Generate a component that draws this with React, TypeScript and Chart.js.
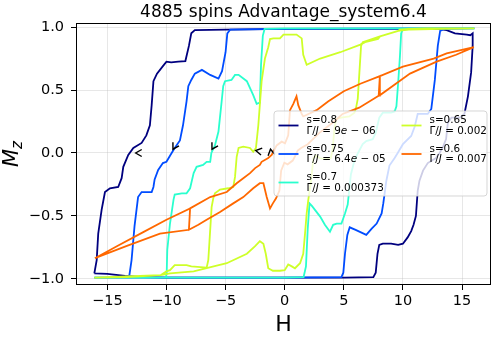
import React, { useEffect, useRef } from "react";
import { Chart, registerables } from "chart.js";
Chart.register(...registerables);

const TITLE = "4885 spins Advantage_system6.4";
const X_LABEL = "H";
const X_TICKS = [-15, -10, -5, 0, 5, 10, 15];
const Y_TICKS = [-1.0, -0.5, 0.0, 0.5, 1.0];
const S_LABELS = ["s=0.8", "s=0.75", "s=0.7", "s=0.65", "s=0.6"];
const GAMMA_MANT = ["9", "6.4", "0.000373", "0.002", "0.007"];
const GAMMA_EXP = ["06", "05", "", "", ""];
const COLORS = ["#00007f", "#004cff", "#29ffce", "#ceff29", "#ff6800"];

// s = 0.8 : forward sweep then backward sweep
const H_080 = [-16.1, -15, -13.5, -12, -10, -5, 0, 5, 7.5, 7.7, 7.85, 8.0, 8.3, 9.0, 9.6, 10.0, 10.4, 10.7, 10.9, 11.1, 11.25, 11.4, 11.7, 12.1, 12.8, 13.1, 13.4, 13.65, 13.8, 14.1, 14.8, 15.2, 15.5, 15.77, 15.9, 15.9,
  15.7, 15.4, 14.4, 13.7, 13, 10, 5, 0, -5, -7.6, -7.9, -8.1, -8.4, -9.0, -9.6, -10.0, -10.3, -10.8, -11.1, -11.25, -11.4, -11.7, -12.1, -12.8, -13.23, -13.65, -13.79, -14.08, -14.78, -15.2, -15.48, -15.77, -15.9, -16.1];
const M_080 = [-0.955, -0.96, -0.975, -0.985, -0.99, -0.99, -0.99, -0.99, -0.985, -0.95, -0.8, -0.73, -0.72, -0.72, -0.73, -0.72, -0.67, -0.62, -0.57, -0.5, -0.3, -0.22, -0.14, -0.08, -0.04, 0.0, 0.05, 0.11, 0.24, 0.28, 0.28, 0.31, 0.45, 0.64, 0.85, 0.95,
  0.935, 0.94, 0.95, 0.975, 0.985, 0.985, 0.985, 0.985, 0.98, 0.975, 0.95, 0.85, 0.73, 0.725, 0.72, 0.725, 0.69, 0.63, 0.57, 0.38, 0.22, 0.14, 0.08, 0.04, -0.016, -0.11, -0.2, -0.27, -0.28, -0.31, -0.45, -0.64, -0.85, -0.955];

// s = 0.75
const H_075 = [-16.1, -10, 0, 4.8, 4.96, 5.1, 5.3, 5.5, 6.0, 6.9, 7.36, 7.78, 8.2, 8.34, 8.6, 8.86, 9.3, 9.56, 10.0, 10.7, 11.0, 11.25, 12.1, 12.4, 12.7, 12.95, 13.15, 13.5, 16.05,
  10, 0, -4.6, -4.85, -5.0, -5.3, -5.6, -6.3, -7.0, -7.6, -7.9, -8.15, -8.3, -8.6, -8.86, -9.3, -9.56, -10, -10.3, -10.7, -11, -11.1, -11.25, -12.1, -12.4, -12.7, -12.95, -13.15, -13.5, -16.1];
const M_075 = [-0.99, -0.99, -0.99, -0.985, -0.95, -0.8, -0.65, -0.59, -0.61, -0.65, -0.6, -0.56, -0.48, -0.4, -0.22, -0.1, -0.04, 0.0, 0.07, 0.135, 0.21, 0.31, 0.31, 0.35, 0.58, 0.85, 0.97, 0.985, 0.99,
  0.99, 0.985, 0.98, 0.95, 0.8, 0.65, 0.59, 0.62, 0.66, 0.63, 0.58, 0.53, 0.41, 0.22, 0.10, 0.04, 0.0, -0.07, -0.08, -0.135, -0.21, -0.27, -0.31, -0.31, -0.35, -0.58, -0.85, -0.98, -0.99, -0.99];

// s = 0.7
const H_070 = [-16.1, -5, 0, 1.6, 1.8, 1.95, 2.1, 2.3, 3.0, 3.4, 3.83, 4.1, 4.4, 4.8, 5.1, 5.33, 5.6, 5.9, 6.2, 6.6, 6.9, 7.45, 7.7, 8.0, 8.3, 9.0, 9.3, 9.45, 9.6, 9.75, 9.85, 10.0, 12, 16.05,
  10, 5, 0, -1.7, -1.85, -2.0, -2.1, -2.37, -2.66, -3.2, -3.9, -4.2, -4.5, -5.05, -5.2, -5.33, -5.6, -5.9, -6.2, -6.3, -6.6, -6.9, -7.45, -7.7, -8.0, -8.3, -8.7, -9.3, -9.4, -9.7, -9.93, -9.98, -10.05, -12, -16.1];
const M_070 = [-0.99, -0.99, -0.99, -0.985, -0.9, -0.6, -0.4, -0.42, -0.505, -0.57, -0.625, -0.57, -0.56, -0.56, -0.48, -0.41, -0.17, -0.06, 0.0, 0.07, 0.095, 0.11, 0.16, 0.28, 0.32, 0.32, 0.33, 0.37, 0.56, 0.77, 0.95, 0.985, 0.99, 0.99,
  0.99, 0.99, 0.99, 0.985, 0.93, 0.7, 0.40, 0.39, 0.46, 0.57, 0.62, 0.62, 0.58, 0.57, 0.53, 0.41, 0.17, 0.06, 0.0, -0.07, -0.07, -0.095, -0.11, -0.16, -0.28, -0.32, -0.32, -0.33, -0.37, -0.56, -0.77, -0.955, -0.99, -0.99, -0.99];

// s = 0.65
const H_065 = [-16.1, -13.4, -10.5, -9.7, -7.7, -4.9, -3.2, -2.5, -2.1, -1.8, -1.6, -1.39, -1.0, -0.4, 0, 0.3, 0.6, 0.87, 1.3, 1.57, 1.72, 1.86, 2.0, 2.23, 2.43, 2.66, 2.93, 3.5, 3.9, 4.06, 4.2, 4.35, 4.77, 5.47, 5.9, 6.04, 6.18, 6.32, 6.46, 6.6, 8.06, 9.6, 10.5, 13.4, 16.05,
  12, 10.5, 9.75, 9.6, 8.06, 7.9, 6.8, 6.4, 4.7, 3.0, 1.86, 1.57, 1.44, 1.0, -0.1, -0.4, -0.96, -1.24, -1.39, -1.67, -1.95, -2.23, -2.43, -2.66, -2.93, -3.5, -3.9, -4.06, -4.2, -4.35, -4.77, -5.47, -5.9, -6.04, -6.18, -6.32, -6.46, -6.6, -7.9, -8.3, -9.3, -9.7, -10.0, -10.5, -13.4, -16.1];
const M_065 = [-0.99, -0.985, -0.97, -0.955, -0.94, -0.875, -0.80, -0.74, -0.70, -0.72, -0.80, -0.915, -0.935, -0.935, -0.93, -0.885, -0.90, -0.915, -0.875, -0.80, -0.64, -0.48, -0.37, -0.22, -0.04, -0.02, -0.04, -0.05, -0.04, 0.03, 0.19, 0.27, 0.28, 0.29, 0.32, 0.36, 0.43, 0.64, 0.85, 0.88, 0.925, 0.97, 0.98, 0.985, 0.99,
  0.99, 0.985, 0.98, 0.97, 0.925, 0.905, 0.88, 0.86, 0.80, 0.75, 0.70, 0.78, 0.91, 0.94, 0.94, 0.91, 0.91, 0.905, 0.84, 0.75, 0.57, 0.22, 0.04, 0.01, 0.04, 0.05, 0.04, -0.03, -0.19, -0.27, -0.28, -0.29, -0.32, -0.36, -0.43, -0.64, -0.85, -0.91, -0.90, -0.89, -0.89, -0.93, -0.94, -0.97, -0.98, -0.99];

// s = 0.6
const H_060 = [-16.05, -14, -12, -10, -8.0, -8.1, -7.3, -6.6, -5.5, -4.35, -3.5, -2.66, -2.1, -1.8, -1.52, -1.24, -1.0, -0.73, -0.45, -0.3, -0.03, 0.25, 0.68, 0.96, 1.1, 1.39, 1.95, 2.5, 2.93, 3.5, 4.06, 4.9, 6.3, 7.95, 8.05, 10.0, 12.6, 13.7, 16.0,
  14.5, 12.85, 10.6, 8.0, 8.05, 6.4, 5.0, 3.7, 2.7, 1.57, 1.44, 1.15, 1.0, 0.73, 0.45, 0.3, 0.03, -0.25, -0.68, -0.96, -1.1, -1.39, -1.95, -2.1, -2.5, -2.93, -3.5, -4.06, -4.9, -6.3, -8.0, -8.1, -10.55, -13.4, -16.05];
const M_060 = [-0.835, -0.73, -0.63, -0.53, -0.44, -0.61, -0.57, -0.53, -0.47, -0.40, -0.35, -0.28, -0.24, -0.24, -0.35, -0.44, -0.40, -0.36, -0.30, -0.14, -0.077, -0.09, -0.06, -0.01, 0.02, 0.04, 0.07, 0.12, 0.16, 0.2, 0.24, 0.31, 0.36, 0.455, 0.61, 0.685, 0.75, 0.79, 0.84,
  0.78, 0.725, 0.63, 0.455, 0.61, 0.55, 0.49, 0.41, 0.34, 0.29, 0.31, 0.38, 0.45, 0.39, 0.34, 0.14, 0.077, 0.09, 0.06, 0.01, -0.016, -0.04, -0.07, -0.095, -0.12, -0.16, -0.2, -0.24, -0.31, -0.35, -0.44, -0.61, -0.64, -0.74, -0.835];

// sweep-direction arrow heads (position and heading in degrees, screen orientation)
const ARROW_H = [-12.6, -9.45, -6.15, -2.45, -1.2];
const ARROW_M = [0.0, 0.03, 0.03, 0.02, 0.03];
const ARROW_DEG = [180, 120, 120, 190, 260];

const SERIES_H = [H_080, H_075, H_070, H_065, H_060];
const SERIES_M = [M_080, M_075, M_070, M_065, M_060];

const FONT = "'DejaVu Sans', sans-serif";

function fmt(v: number, dec: number) {
  const s = Math.abs(v).toFixed(dec);
  return (v < 0 ? "\u2212" : "") + s;
}

function drawSegments(ctx: CanvasRenderingContext2D, segs: [string, boolean][], x: number, y: number, size: number) {
  let cx = x;
  for (const [t, it] of segs) {
    ctx.font = `${it ? "italic " : ""}${size}px ${FONT}`;
    ctx.fillText(t, cx, y);
    cx += ctx.measureText(t).width;
  }
}

const decorPlugin = {
  id: "decor",
  afterDatasetsDraw(chart: any) {
    const ctx = chart.ctx as CanvasRenderingContext2D;
    const xs = chart.scales.x, ys = chart.scales.y;
    const a = chart.chartArea;
    // arrow heads
    ctx.save();
    ctx.strokeStyle = "#000";
    ctx.lineWidth = 1.4;
    for (let i = 0; i < ARROW_H.length; i++) {
      const px = xs.getPixelForValue(ARROW_H[i]);
      const py = ys.getPixelForValue(ARROW_M[i]);
      ctx.save();
      ctx.translate(px, py);
      ctx.rotate((ARROW_DEG[i] * Math.PI) / 180);
      ctx.beginPath();
      ctx.moveTo(-6, -3.5);
      ctx.lineTo(0, 0);
      ctx.lineTo(-6, 3.5);
      ctx.stroke();
      ctx.restore();
    }
    ctx.restore();
    // frame
    ctx.save();
    ctx.strokeStyle = "#000";
    ctx.lineWidth = 1;
    ctx.strokeRect(Math.round(a.left) + 0.5, Math.round(a.top) + 0.5, Math.round(a.right - a.left) - 1, Math.round(a.bottom - a.top) - 1);
    ctx.restore();
    // legend
    ctx.save();
    const lx = 274, ly = 111, lw = 213, lh = 85, r = 3;
    ctx.beginPath();
    ctx.moveTo(lx + r, ly);
    ctx.arcTo(lx + lw, ly, lx + lw, ly + lh, r);
    ctx.arcTo(lx + lw, ly + lh, lx, ly + lh, r);
    ctx.arcTo(lx, ly + lh, lx, ly, r);
    ctx.arcTo(lx, ly, lx + lw, ly, r);
    ctx.closePath();
    ctx.fillStyle = "rgba(255,255,255,0.8)";
    ctx.fill();
    ctx.strokeStyle = "rgba(204,204,204,0.8)";
    ctx.lineWidth = 1;
    ctx.stroke();
    const colX = [278.5, 401.5];
    const rowY = [125.5, 154, 182.5];
    ctx.fillStyle = "#000";
    ctx.textBaseline = "alphabetic";
    ctx.textAlign = "left";
    for (let i = 0; i < S_LABELS.length; i++) {
      const c = i < 3 ? 0 : 1;
      const rr = i < 3 ? i : i - 3;
      const hx = colX[c], hy = rowY[rr];
      ctx.strokeStyle = COLORS[i];
      ctx.lineWidth = 1.8;
      ctx.beginPath();
      ctx.moveTo(hx, hy);
      ctx.lineTo(hx + 20, hy);
      ctx.stroke();
      ctx.fillStyle = "#000";
      const tx = hx + 28;
      ctx.font = `10.4px ${FONT}`;
      ctx.fillText(S_LABELS[i], tx, hy - 2.5);
      const segs: [string, boolean][] = [["\u0393/", false], ["J", true], [" = " + GAMMA_MANT[i], false]];
      if (GAMMA_EXP[i]) {
        segs.push(["e", true]);
        segs.push([" \u2212 " + GAMMA_EXP[i], false]);
      }
      drawSegments(ctx, segs, tx, hy + 8.3, 10.4);
    }
    ctx.restore();
  },
  afterDraw(chart: any) {
    const ctx = chart.ctx as CanvasRenderingContext2D;
    const a = chart.chartArea;
    const cx = (a.left + a.right) / 2;
    ctx.save();
    ctx.fillStyle = "#000";
    ctx.textAlign = "center";
    ctx.textBaseline = "alphabetic";
    ctx.font = `17px ${FONT}`;
    ctx.fillText(TITLE, cx, 16.5);
    ctx.font = `22px ${FONT}`;
    ctx.fillText(X_LABEL, cx, 331);
    // y label M_z
    ctx.translate(17.5, (a.top + a.bottom) / 2);
    ctx.rotate(-Math.PI / 2);
    ctx.textAlign = "left";
    ctx.font = `italic 21px ${FONT}`;
    const wM = ctx.measureText("M").width;
    ctx.font = `italic 15px ${FONT}`;
    const wz = ctx.measureText("z").width;
    const x0 = -(wM + wz) / 2;
    ctx.font = `italic 21px ${FONT}`;
    ctx.fillText("M", x0, 0);
    ctx.font = `italic 15px ${FONT}`;
    ctx.fillText("z", x0 + wM, 4);
    ctx.restore();
  },
};

export default function App() {
  const ref = useRef<HTMLCanvasElement | null>(null);
  useEffect(() => {
    if (!ref.current) return;
    const n = SERIES_H.length;
    const datasets = SERIES_H.map((hs, i) => ({
      label: S_LABELS[i],
      data: hs.map((h, j) => ({ x: h, y: SERIES_M[i][j] })),
      borderColor: COLORS[i],
      backgroundColor: COLORS[i],
      borderWidth: 1.8,
      pointRadius: 0,
      showLine: true,
      fill: false,
      tension: 0,
      order: n - i,
    }));
    const tickFont = { family: FONT, size: 14.5 };
    const chart = new Chart(ref.current, {
      type: "scatter",
      data: { datasets },
      options: {
        animation: false,
        responsive: false,
        maintainAspectRatio: false,
        layout: { padding: { top: 23, right: 3, left: 0, bottom: 0 } },
        plugins: { legend: { display: false }, tooltip: { enabled: false }, title: { display: false } },
        scales: {
          x: {
            type: "linear",
            min: -17.65,
            max: 17.45,
            afterBuildTicks: (s: any) => { s.ticks = X_TICKS.map((v) => ({ value: v })); },
            afterFit: (s: any) => { s.height = 52; },
            ticks: { font: tickFont, color: "#000", padding: 3, maxRotation: 0, callback: (v: any) => fmt(Number(v), 0) },
            grid: { color: "rgba(176,176,176,0.3)", lineWidth: 1, tickColor: "#000", tickLength: 5, tickWidth: 1 },
            border: { display: false },
          },
          y: {
            type: "linear",
            min: -1.048,
            max: 1.032,
            afterBuildTicks: (s: any) => { s.ticks = Y_TICKS.map((v) => ({ value: v })); },
            afterFit: (s: any) => { s.width = 76; },
            ticks: { font: tickFont, color: "#000", padding: 7, callback: (v: any) => fmt(Number(v), 1) },
            grid: { color: "rgba(176,176,176,0.3)", lineWidth: 1, tickColor: "#000", tickLength: 5, tickWidth: 1 },
            border: { display: false },
          },
        },
      },
      plugins: [decorPlugin],
    });
    return () => chart.destroy();
  }, []);
  return (
    <div style={{ position: "fixed", left: 0, top: 0, width: 494, height: 337, background: "#fff" }}>
      <canvas ref={ref} width={494} height={337} style={{ width: 494, height: 337 }} />
    </div>
  );
}
